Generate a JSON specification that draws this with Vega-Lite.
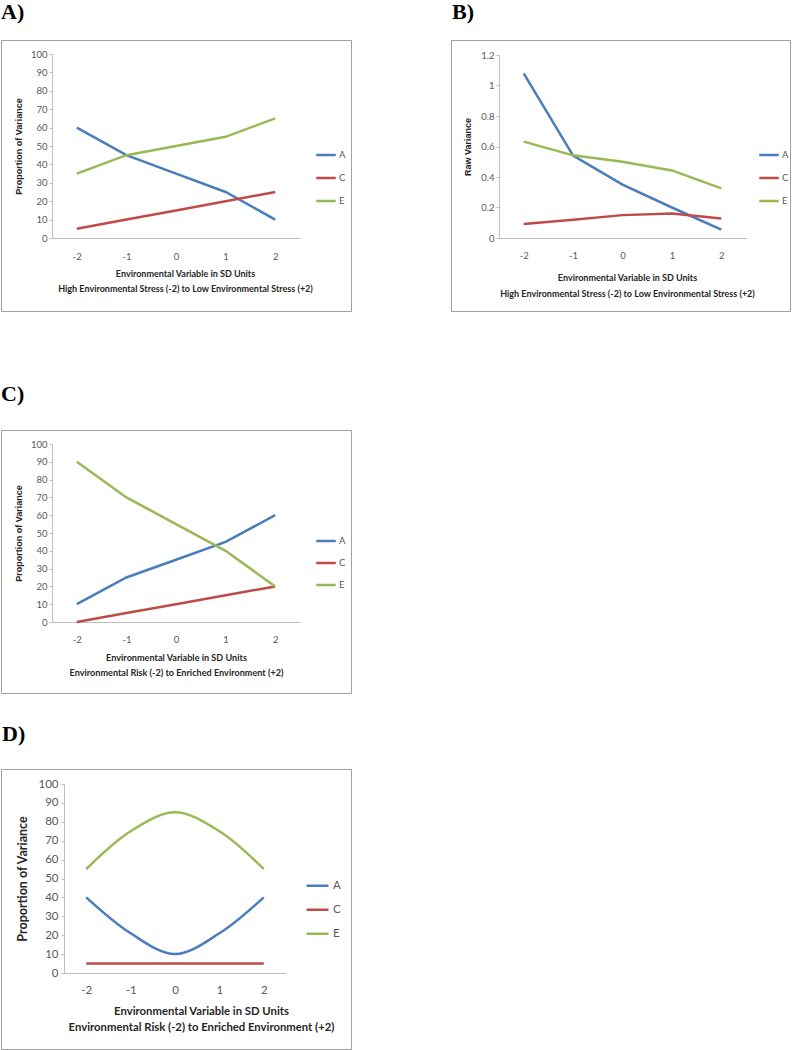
{
  "$schema": "https://vega.github.io/schema/vega-lite/v6.json",
  "autosize": {"type": "pad"},
  "padding": {"left": 0, "top": 0, "right": 0, "bottom": 0},
  "background": "white",
  "datasets": {
    "a": [
      {"x": -2, "series": "A", "value": 60}, {"x": -1, "series": "A", "value": 45}, {"x": 0, "series": "A", "value": 35}, {"x": 1, "series": "A", "value": 25}, {"x": 2, "series": "A", "value": 10},
      {"x": -2, "series": "C", "value": 5}, {"x": -1, "series": "C", "value": 10}, {"x": 0, "series": "C", "value": 15}, {"x": 1, "series": "C", "value": 20}, {"x": 2, "series": "C", "value": 25},
      {"x": -2, "series": "E", "value": 35}, {"x": -1, "series": "E", "value": 45}, {"x": 0, "series": "E", "value": 50}, {"x": 1, "series": "E", "value": 55}, {"x": 2, "series": "E", "value": 65}
    ],
    "b": [
      {"x": -2, "series": "A", "value": 1.08}, {"x": -1, "series": "A", "value": 0.54}, {"x": 0, "series": "A", "value": 0.35}, {"x": 1, "series": "A", "value": 0.2}, {"x": 2, "series": "A", "value": 0.055},
      {"x": -2, "series": "C", "value": 0.092}, {"x": -1, "series": "C", "value": 0.12}, {"x": 0, "series": "C", "value": 0.15}, {"x": 1, "series": "C", "value": 0.16}, {"x": 2, "series": "C", "value": 0.128},
      {"x": -2, "series": "E", "value": 0.632}, {"x": -1, "series": "E", "value": 0.542}, {"x": 0, "series": "E", "value": 0.5}, {"x": 1, "series": "E", "value": 0.443}, {"x": 2, "series": "E", "value": 0.325}
    ],
    "c": [
      {"x": -2, "series": "A", "value": 10}, {"x": -1, "series": "A", "value": 25}, {"x": 0, "series": "A", "value": 35}, {"x": 1, "series": "A", "value": 45}, {"x": 2, "series": "A", "value": 60},
      {"x": -2, "series": "C", "value": 0}, {"x": -1, "series": "C", "value": 5}, {"x": 0, "series": "C", "value": 10}, {"x": 1, "series": "C", "value": 15}, {"x": 2, "series": "C", "value": 20},
      {"x": -2, "series": "E", "value": 90}, {"x": -1, "series": "E", "value": 70}, {"x": 0, "series": "E", "value": 55}, {"x": 1, "series": "E", "value": 40}, {"x": 2, "series": "E", "value": 20}
    ],
    "d": [
      {"x": -2, "series": "A", "value": 40}, {"x": -1, "series": "A", "value": 21}, {"x": 0, "series": "A", "value": 10}, {"x": 1, "series": "A", "value": 21}, {"x": 2, "series": "A", "value": 40},
      {"x": -2, "series": "C", "value": 5}, {"x": -1, "series": "C", "value": 5}, {"x": 0, "series": "C", "value": 5}, {"x": 1, "series": "C", "value": 5}, {"x": 2, "series": "C", "value": 5},
      {"x": -2, "series": "E", "value": 55}, {"x": -1, "series": "E", "value": 75}, {"x": 0, "series": "E", "value": 85}, {"x": 1, "series": "E", "value": 75}, {"x": 2, "series": "E", "value": 55}
    ]
  },
  "config": {
    "view": {"stroke": "#A0A0A0", "strokeWidth": 1},
    "axis": {"grid": false, "domainColor": "#BFBFBF", "tickColor": "#BFBFBF", "labelFont": "Lato", "labelColor": "#595959", "labelFontSize": 9.5, "titleColor": "#262626"},
    "legend": {"labelFont": "Lato", "labelColor": "#595959", "labelFontSize": 9.5},
    "title": {"font": "Liberation Serif", "fontSize": 22, "fontWeight": "bold", "color": "#000000", "anchor": "start", "baseline": "alphabetic"}
  },
  "resolve": {"scale": {"color": "independent"}, "legend": {"color": "independent"}},
  "vconcat": [
    {
      "spacing": 70,
      "resolve": {"scale": {"color": "independent"}, "legend": {"color": "independent"}},
      "vconcat": [
        {
          "bounds": "flush",
          "spacing": 100,
          "resolve": {"scale": {"color": "independent"}, "legend": {"color": "independent"}},
          "hconcat": [
            {
              "width": 350, "height": 271,
              "title": {"text": "A)", "offset": 16, "dx": 0},
              "data": {"name": "a"},
              "mark": {"type": "line", "strokeWidth": 2.5},
              "encoding": {
                "x": {"field": "x", "type": "quantitative",
                  "scale": {"domain": [-2.5, 2.5], "range": [51, 299], "nice": false, "zero": false},
                  "axis": {"values": [-2, -1, 0, 1, 2], "labelExpr": "'' + datum.value", "ticks": false, "tickSize": 0, "offset": -73, "labelPadding": 13,
                    "title": ["Environmental Variable in SD Units", "High Environmental Stress (-2) to Low Environmental Stress (+2)"],
                    "titleFont": "Lato", "titleFontWeight": "bold", "titleFontSize": 9, "titleX": 184, "titleY": 31, "titleBaseline": "top", "titleLineHeight": 15}},
                "y": {"field": "value", "type": "quantitative",
                  "scale": {"domain": [0, 100], "range": [198, 14], "nice": false},
                  "axis": {"values": [0, 10, 20, 30, 40, 50, 60, 70, 80, 90, 100], "offset": -51, "tickSize": 3, "labelPadding": 2,
                    "title": "Proportion of Variance", "titleFont": "Liberation Sans", "titleFontWeight": "bold", "titleFontSize": 9, "titlePadding": 7}},
                "color": {"field": "series", "type": "nominal",
                  "scale": {"domain": ["A", "C", "E"], "range": ["#4A7EBB", "#BE4B48", "#98B954"]},
                  "legend": {"orient": "none", "legendX": 314, "legendY": 103.5, "title": null, "symbolType": "stroke", "symbolSize": 380, "symbolStrokeWidth": 2.5, "clipHeight": 23, "rowPadding": 0, "padding": 0, "labelOffset": 2}}
              }
            },
            {
              "width": 339, "height": 271,
              "title": {"text": "B)", "offset": 16, "dx": 1},
              "data": {"name": "b"},
              "mark": {"type": "line", "strokeWidth": 2.5},
              "encoding": {
                "x": {"field": "x", "type": "quantitative",
                  "scale": {"domain": [-2.5, 2.5], "range": [48, 295], "nice": false, "zero": false},
                  "axis": {"values": [-2, -1, 0, 1, 2], "labelExpr": "'' + datum.value", "ticks": false, "tickSize": 0, "offset": -73, "labelPadding": 12,
                    "title": ["Environmental Variable in SD Units", "High Environmental Stress (-2) to Low Environmental Stress (+2)"],
                    "titleFont": "Lato", "titleFontWeight": "bold", "titleFontSize": 9, "titleX": 176, "titleY": 35, "titleBaseline": "top", "titleLineHeight": 16}},
                "y": {"field": "value", "type": "quantitative",
                  "scale": {"domain": [0, 1.2], "range": [198, 15], "nice": false},
                  "axis": {"values": [0, 0.2, 0.4, 0.6, 0.8, 1, 1.2], "format": "~g", "offset": -48, "tickSize": 3, "labelPadding": 2,
                    "title": "Raw Variance", "titleFont": "Liberation Sans", "titleFontWeight": "bold", "titleFontSize": 9, "titlePadding": 8}},
                "color": {"field": "series", "type": "nominal",
                  "scale": {"domain": ["A", "C", "E"], "range": ["#4A7EBB", "#BE4B48", "#98B954"]},
                  "legend": {"orient": "none", "legendX": 307, "legendY": 103.5, "title": null, "symbolType": "stroke", "symbolSize": 380, "symbolStrokeWidth": 2.5, "clipHeight": 23, "rowPadding": 0, "padding": 0, "labelOffset": 2}}
              }
            }
          ]
        },
        {
          "width": 350, "height": 263,
          "title": {"text": "C)", "offset": 24.5, "dx": 0},
          "data": {"name": "c"},
          "mark": {"type": "line", "strokeWidth": 2.5},
          "encoding": {
            "x": {"field": "x", "type": "quantitative",
              "scale": {"domain": [-2.5, 2.5], "range": [51, 299], "nice": false, "zero": false},
              "axis": {"values": [-2, -1, 0, 1, 2], "labelExpr": "'' + datum.value", "ticks": false, "tickSize": 0, "offset": -71, "labelPadding": 12,
                "title": ["Environmental Variable in SD Units", "Environmental Risk (-2) to Enriched Environment (+2)"],
                "titleFont": "Lato", "titleFontWeight": "bold", "titleFontSize": 9.1, "titleX": 175, "titleY": 31, "titleBaseline": "top", "titleLineHeight": 15}},
            "y": {"field": "value", "type": "quantitative",
              "scale": {"domain": [0, 100], "range": [192, 14], "nice": false},
              "axis": {"values": [0, 10, 20, 30, 40, 50, 60, 70, 80, 90, 100], "offset": -51, "tickSize": 3, "labelPadding": 2,
                "title": "Proportion of Variance", "titleFont": "Liberation Sans", "titleFontWeight": "bold", "titleFontSize": 9, "titlePadding": 7}},
            "color": {"field": "series", "type": "nominal",
              "scale": {"domain": ["A", "C", "E"], "range": ["#4A7EBB", "#BE4B48", "#98B954"]},
              "legend": {"orient": "none", "legendX": 314, "legendY": 100, "title": null, "symbolType": "stroke", "symbolSize": 380, "symbolStrokeWidth": 2.5, "clipHeight": 22, "rowPadding": 0, "padding": 0, "labelOffset": 2}}
          }
        }
      ]
    },
    {
      "width": 350, "height": 280,
      "title": {"text": "D)", "offset": 23.5, "dx": 1},
      "data": {"name": "d"},
      "mark": {"type": "line", "strokeWidth": 2.5, "interpolate": "catmull-rom"},
      "encoding": {
        "x": {"field": "x", "type": "quantitative",
          "scale": {"domain": [-2.5, 2.5], "range": [63, 285], "nice": false, "zero": false},
          "axis": {"values": [-2, -1, 0, 1, 2], "labelExpr": "'' + datum.value", "ticks": false, "tickSize": 0, "offset": -76, "labelPadding": 11, "labelFontSize": 11.5,
            "title": ["Environmental Variable in SD Units", "Environmental Risk (-2) to Enriched Environment (+2)"],
            "titleFont": "Lato", "titleFontWeight": "bold", "titleFontSize": 11.3, "titleX": 200, "titleY": 32, "titleBaseline": "top", "titleLineHeight": 16}},
        "y": {"field": "value", "type": "quantitative",
          "scale": {"domain": [0, 100], "range": [204, 15], "nice": false},
          "axis": {"values": [0, 10, 20, 30, 40, 50, 60, 70, 80, 90, 100], "offset": -63, "tickSize": 3, "labelPadding": 3, "labelFontSize": 11.5,
            "title": "Proportion of Variance", "titleFont": "Lato", "titleFontWeight": "bold", "titleFontSize": 12.5, "titlePadding": 8}},
        "color": {"field": "series", "type": "nominal",
          "scale": {"domain": ["A", "C", "E"], "range": ["#4A7EBB", "#BE4B48", "#98B954"]},
          "legend": {"orient": "none", "legendX": 304, "legendY": 105, "title": null, "symbolType": "stroke", "symbolSize": 484, "symbolStrokeWidth": 2.5, "clipHeight": 23.5, "rowPadding": 0, "padding": 0, "labelOffset": 3, "labelFontSize": 11.5}}
      }
    }
  ],
  "spacing": 28
}
